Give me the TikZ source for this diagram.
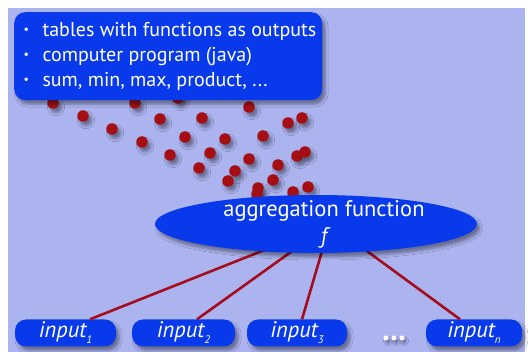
\documentclass[tikz,border=0pt]{standalone}
\usepackage{fontspec}
\setmainfont{PT Sans}
\usetikzlibrary{shapes.geometric,shadows.blur,calc}
\definecolor{bg}{RGB}{172,180,240}
\definecolor{boxblue}{RGB}{8,58,236}
\definecolor{dotred}{RGB}{165,15,20}
\definecolor{linered}{RGB}{165,12,30}
\tikzset{
  softshadow/.style={blur shadow={shadow xshift=3pt,shadow yshift=-4pt,shadow blur radius=3pt,shadow opacity=40}},
  dotball/.style={circle,fill=dotred,minimum size=11.5pt,inner sep=0pt,softshadow},
  infobox/.style={rectangle,rounded corners=11pt,fill=boxblue,minimum width=308pt,minimum height=88pt,inner sep=0pt,softshadow},
  inbox/.style={rectangle,rounded corners=11pt,fill=boxblue,minimum height=27pt,inner sep=0pt,text=white,
    font=\fontsize{22.5}{24}\selectfont\itshape,softshadow},
  aggshape/.style={ellipse,fill=boxblue,minimum width=322pt,minimum height=58pt,inner sep=0pt,softshadow},
  whitetext/.style={text=white,font=\fontsize{20}{25}\selectfont},
  conn/.style={draw=linered,line width=2.6pt},
  moredot/.style={circle,fill=white,minimum size=5pt,inner sep=0pt,blur shadow={shadow xshift=2pt,shadow yshift=-3pt,shadow blur radius=2pt,shadow opacity=35}}
}
\newcommand{\sub}[1]{\raisebox{-6pt}{\fontsize{11}{11}\selectfont #1}}
\newcommand{\bul}{\makebox[0pt][l]{\raisebox{2.5pt}{\fontsize{12}{12}\selectfont\textbullet}}\hspace{19pt}}
\begin{document}
\begin{tikzpicture}[x=1pt,y=-1pt]
\useasboundingbox (0,0) rectangle (528,352);
\fill[white] (0,0) rectangle (528,352);
\fill[bg] (8,8) rectangle (525,352);
% red dots
\node[dotball] (d1) at (53,103) {};
\node[dotball] (d2) at (135,103) {};
\node[dotball] (d3) at (178,98) {};
\node[dotball] (d4) at (249,107) {};
\node[dotball] (d5) at (83,116) {};
\node[dotball] (d6) at (160,119) {};
\node[dotball] (d7) at (202,118) {};
\node[dotball] (d8) at (112,129) {};
\node[dotball] (d9) at (288,123) {};
\node[dotball] (d10) at (302,118) {};
\node[dotball] (d11) at (185,137) {};
\node[dotball] (d12) at (225,139) {};
\node[dotball] (d13) at (263,136) {};
\node[dotball] (d14) at (142,142) {};
\node[dotball] (d15) at (170,155) {};
\node[dotball] (d16) at (210,153) {};
\node[dotball] (d17) at (249,159) {};
\node[dotball] (d18) at (297,156) {};
\node[dotball] (d19) at (305,152) {};
\node[dotball] (d20) at (199,168) {};
\node[dotball] (d21) at (235,171) {};
\node[dotball] (d22) at (278,165) {};
\node[dotball] (d23) at (228,181) {};
\node[dotball] (d24) at (273,180) {};
\node[dotball] (d25) at (258,188) {};
\node[dotball] (d26) at (257,194) {};
\node[dotball] (d27) at (293,192) {};
\node[dotball] (d28) at (308,187) {};
% top box
\node[infobox,anchor=north west] (info) at (14,12) {};
\node[whitetext,anchor=west,align=left] (infotext) at (20,56)
  {\bul tables with functions as outputs\\
   \bul computer program (java)\\
   \bul sum, min, max, product, ...};
% inputs
\node[inbox,minimum width=101pt] (in1) at (65.5,333) {input\sub{1}};
\node[inbox,minimum width=103pt] (in2) at (183.5,333) {input\sub{2}};
\node[inbox,minimum width=100pt] (in3) at (297,333) {input\sub{3}};
\node[inbox,minimum width=96pt] (inn) at (474,333) {input\sub{n}};
\node[moredot] (m1) at (386,338) {};
\node[moredot] (m2) at (394,338) {};
\node[moredot] (m3) at (402,338) {};
% connectors
\coordinate (hub) at (330,224);
\draw[conn] ([xshift=24.5pt]in1.north) -- (hub);
\draw[conn] ([xshift=13.5pt]in2.north) -- (hub);
\draw[conn] ([xshift=5pt]in3.north) -- (hub);
\draw[conn] ([xshift=-14pt]inn.north) -- (hub);
% aggregation ellipse
\node[aggshape] (agg) at (316,224) {};
\node[whitetext,align=center,font=\fontsize{22.5}{27}\selectfont] (aggtext) at (324,224.5) {aggregation function\\\itshape f};
\end{tikzpicture}
\end{document}
